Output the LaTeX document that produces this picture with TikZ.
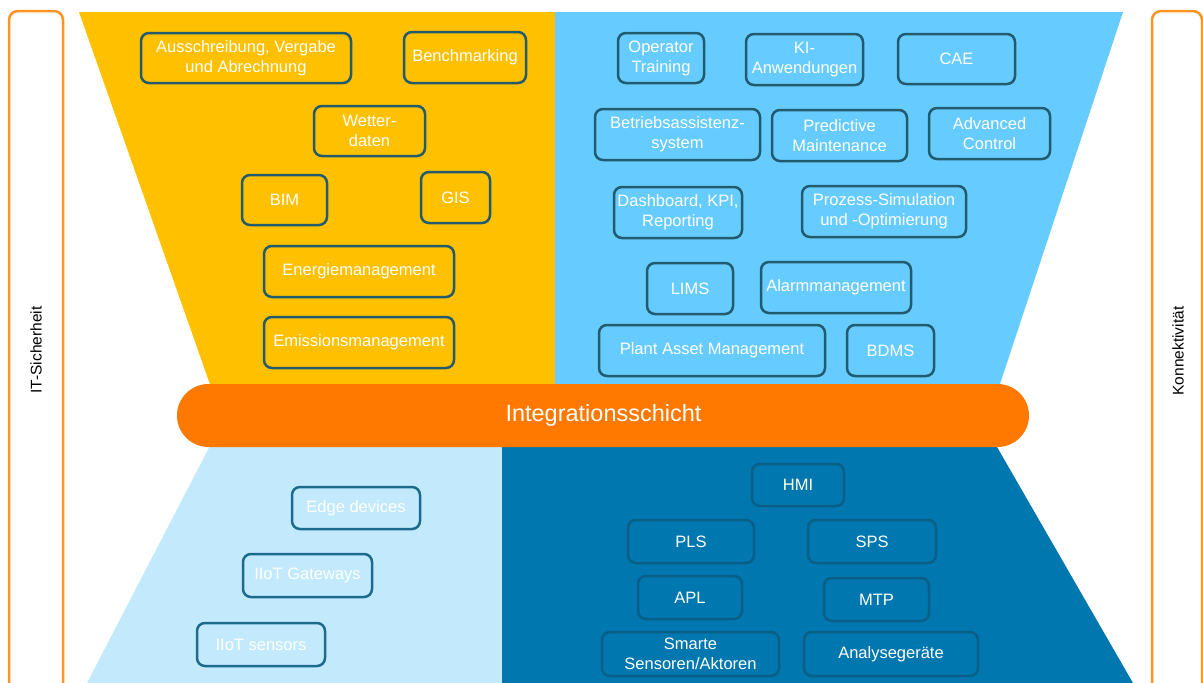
\documentclass[tikz,border=0pt]{standalone}
\usepackage{fontspec}
\setmainfont{Liberation Sans}
\definecolor{yellowC}{HTML}{FFC000}
\definecolor{skyC}{HTML}{66CCFF}
\definecolor{orangeC}{HTML}{FF7800}
\definecolor{paleC}{HTML}{C2EAFC}
\definecolor{deepC}{HTML}{0077AE}
\definecolor{sideC}{HTML}{FF9422}
\definecolor{topB}{HTML}{225A6E}
\definecolor{paleB}{HTML}{1C6B8E}
\definecolor{deepB}{HTML}{0A5F87}
\tikzset{
  box/.style={draw=topB, line width=2.5pt, rounded corners=8pt, inner sep=0pt,
    text=white, align=center, font=\fontsize{16.5}{20}\selectfont},
  palebox/.style={box, draw=paleB},
  deepbox/.style={box, draw=deepB},
  sidebar/.style={draw=sideC, line width=2.5pt, rounded corners=9pt, fill=white},
  sidelabel/.style={rotate=90, text=black, font=\fontsize{15.5}{18}\selectfont}
}
\begin{document}
\begin{tikzpicture}[x=1pt,y=-1pt]
\useasboundingbox (0,0) rectangle (1203,683);
\clip (0,0) rectangle (1203,683);
\fill[white] (0,0) rectangle (1203,683);
% side bars
\draw[sidebar] (9,11) rectangle (63,710);
\draw[sidebar] (1152,11) rectangle (1202,710);
\node[sidelabel] (itsec) at (36,350) {IT-Sicherheit};
\node[sidelabel] (konn) at (1178,351) {Konnektivität};
% regions
\fill[yellowC] (79,12) -- (555,12) -- (555,390) -- (212,390) -- cycle;
\fill[skyC] (555,12) -- (1123,12) -- (998,390) -- (555,390) -- cycle;
\fill[paleC] (213,440) -- (502,440) -- (502,683) -- (87,683) -- cycle;
\fill[deepC] (502,440) -- (993,440) -- (1133,683) -- (502,683) -- cycle;
% integration layer
\node[fill=orangeC, rounded corners=31.5pt, minimum width=852pt, minimum height=63pt,
  inner sep=0pt] (integ) at (603,415.5) {};
\node[text=white, font=\fontsize{23.5}{26}\selectfont] (integtext) at (603.5,415) {Integrationsschicht};
% yellow boxes
\node[box, minimum width=210, minimum height=50] (ausschr) at (246,58) {Ausschreibung, Vergabe\\und Abrechnung};
\node[box, minimum width=122, minimum height=51] (bench) at (465,57.5) {Benchmarking};
\node[box, minimum width=111, minimum height=50] (wetter) at (369.5,131) {Wetter-\\daten};
\node[box, minimum width=85, minimum height=50] (bim) at (284.5,200) {BIM};
\node[box, minimum width=69, minimum height=51] (gis) at (455.5,197.5) {GIS};
\node[box, minimum width=190, minimum height=51] (energie) at (359,271.5) {Energiemanagement};
\node[box, minimum width=190, minimum height=51] (emission) at (359,342.5) {Emissionsmanagement};
% sky boxes
\node[box, minimum width=86, minimum height=50] (operator) at (661,58) {Operator\\Training};
\node[box, minimum width=117, minimum height=51] (ki) at (804.5,59.5) {KI-\\Anwendungen};
\node[box, minimum width=117, minimum height=50] (cae) at (956.5,59) {CAE};
\node[box, minimum width=165, minimum height=51] (betrieb) at (677.5,134.5) {Betriebsassistenz-\\system};
\node[box, minimum width=135, minimum height=51] (predictive) at (839.5,135.5) {Predictive\\Maintenance};
\node[box, minimum width=121, minimum height=51] (advanced) at (989.5,133.5) {Advanced\\Control};
\node[box, minimum width=128, minimum height=51] (dashboard) at (678,212.5) {Dashboard, KPI,\\Reporting};
\node[box, minimum width=164, minimum height=51] (prozess) at (884,211.5) {Prozess-Simulation\\und -Optimierung};
\node[box, minimum width=86, minimum height=51] (lims) at (690,288.5) {LIMS};
\node[box, minimum width=150, minimum height=51] (alarm) at (836,287.5) {Alarmmanagement};
\node[box, minimum width=226, minimum height=51] (plant) at (712,350.5) {Plant Asset Management};
\node[box, minimum width=87, minimum height=51] (bdms) at (890.5,350.5) {BDMS};
% pale boxes
\node[palebox, minimum width=128, minimum height=42] (edge) at (356,508) {Edge devices};
\node[palebox, minimum width=129, minimum height=43] (gateways) at (307.5,575.5) {IIoT Gateways};
\node[palebox, minimum width=128, minimum height=43] (sensors) at (261,644.5) {IIoT sensors};
% deep boxes
\node[deepbox, minimum width=92, minimum height=42] (hmi) at (798,485) {HMI};
\node[deepbox, minimum width=126, minimum height=43] (pls) at (691,541.5) {PLS};
\node[deepbox, minimum width=128, minimum height=43] (sps) at (872,541.5) {SPS};
\node[deepbox, minimum width=104, minimum height=43] (apl) at (690,597.5) {APL};
\node[deepbox, minimum width=105, minimum height=43] (mtp) at (876.5,599.5) {MTP};
\node[deepbox, minimum width=177, minimum height=44] (smarte) at (690.5,654) {Smarte\\Sensoren/Aktoren};
\node[deepbox, minimum width=174, minimum height=44] (analyse) at (891,654) {Analysegeräte};
\end{tikzpicture}
\end{document}
